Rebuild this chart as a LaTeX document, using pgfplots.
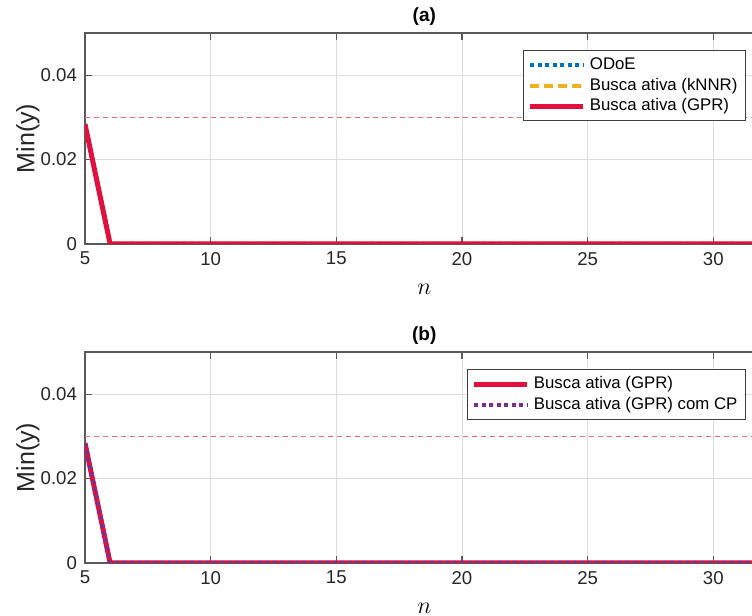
\documentclass[border=0pt]{standalone}
\usepackage{pgfplots}
\pgfplotsset{compat=1.18}
\usepackage{fontspec}
\setmainfont{Liberation Sans}

\definecolor{gprred}{RGB}{226,16,62}
\definecolor{odoeblue}{RGB}{0,114,189}
\definecolor{knnrorange}{RGB}{237,177,32}
\definecolor{cppurple}{RGB}{126,47,142}
\definecolor{refline}{RGB}{225,112,112}

\pgfplotsset{
  minpanel/.style={
    scale only axis,
    width=339.3pt, height=105.5pt,
    xmin=5, xmax=32, ymin=0, ymax=0.05,
    xtick={5,10,...,30}, ytick={0,0.02,0.04},
    scaled y ticks=false,
    yticklabel style={/pgf/number format/fixed, /pgf/number format/precision=2},
    /pgf/number format/assume math mode=true,
    grid=major,
    major grid style={black!13, line width=0.4pt},
    axis line style={black!65, line width=0.55pt},
    tick style={black!65, line width=0.55pt},
    tick align=inside, major tick length=3.5pt,
    ticklabel style={font=\fontsize{9.3}{10}\selectfont, text=black!85},
    xticklabel style={yshift=-0.5pt},
    yticklabel style={xshift=-0.5pt},
    xlabel={$n$},
    xlabel style={at={(axis description cs:0.5,-0.215)}, anchor=center, font=\fontsize{12}{12}\selectfont},
    ylabel={Min(y)},
    ylabel style={at={(axis description cs:-0.084,0.5)}, anchor=center, rotate=0, font=\fontsize{12.5}{13}\selectfont, text=black!85},
    every axis title/.style={at={(0.5,1.08)}, anchor=center, font=\bfseries\fontsize{9.5}{10}\selectfont},
    legend cell align=left,
    legend style={at={(rel axis cs:0.974,0.919)}, anchor=north east,
      font=\fontsize{8.4}{10}\selectfont, draw=black!75, line width=0.5pt,
      inner xsep=2pt, inner ysep=1.5pt, row sep=-1.2pt},
    legend image code/.code={\draw[#1] (0pt,0pt) -- (26.5pt,0pt);},
  },
  refstyle/.style={color=refline, line width=0.5pt, dash pattern=on 2.5pt off 2pt, forget plot},
}

\begin{document}
\begin{tikzpicture}
% (a) ODoE versus active search with kNNR and GPR
\begin{axis}[minpanel, at={(42.5pt,186pt)}, anchor=south west, title={(a)}]
  \addplot[refstyle] coordinates {(5,0.03) (32,0.03)};
  \addplot[odoeblue, line width=2pt, dash pattern=on 2pt off 1.75pt] coordinates {
    (5,0.0284) (6,0) (7,0) (8,0) (9,0) (10,0) (11,0) (12,0) (13,0) (14,0) (15,0)
    (16,0) (17,0) (18,0) (19,0) (20,0) (21,0) (22,0) (23,0) (24,0) (25,0) (26,0)
    (27,0) (28,0) (29,0) (30,0) (31,0) (32,0)};
  \addlegendentry{ODoE}
  \addplot[knnrorange, line width=2pt, dash pattern=on 4.5pt off 2.5pt] coordinates {
    (5,0.0284) (6,0) (7,0) (8,0) (9,0) (10,0) (11,0) (12,0) (13,0) (14,0) (15,0)
    (16,0) (17,0) (18,0) (19,0) (20,0) (21,0) (22,0) (23,0) (24,0) (25,0) (26,0)
    (27,0) (28,0) (29,0) (30,0) (31,0) (32,0)};
  \addlegendentry{Busca ativa (kNNR)}
  \addplot[gprred, line width=2.5pt] coordinates {
    (5,0.0284) (6,0) (7,0) (8,0) (9,0) (10,0) (11,0) (12,0) (13,0) (14,0) (15,0)
    (16,0) (17,0) (18,0) (19,0) (20,0) (21,0) (22,0) (23,0) (24,0) (25,0) (26,0)
    (27,0) (28,0) (29,0) (30,0) (31,0) (32,0)};
  \addlegendentry{Busca ativa (GPR)}
\end{axis}
% (b) GPR active search with and without CP
\begin{axis}[minpanel, at={(42.5pt,26.5pt)}, anchor=south west, title={(b)}]
  \addplot[refstyle] coordinates {(5,0.03) (32,0.03)};
  \addplot[gprred, line width=2.5pt] coordinates {
    (5,0.0284) (6,0) (7,0) (8,0) (9,0) (10,0) (11,0) (12,0) (13,0) (14,0) (15,0)
    (16,0) (17,0) (18,0) (19,0) (20,0) (21,0) (22,0) (23,0) (24,0) (25,0) (26,0)
    (27,0) (28,0) (29,0) (30,0) (31,0) (32,0)};
  \addlegendentry{Busca ativa (GPR)}
  \addplot[cppurple, line width=2pt, dash pattern=on 2pt off 1.75pt] coordinates {
    (5,0.0284) (6,0) (7,0) (8,0) (9,0) (10,0) (11,0) (12,0) (13,0) (14,0) (15,0)
    (16,0) (17,0) (18,0) (19,0) (20,0) (21,0) (22,0) (23,0) (24,0) (25,0) (26,0)
    (27,0) (28,0) (29,0) (30,0) (31,0) (32,0)};
  \addlegendentry{Busca ativa (GPR) com CP}
\end{axis}
\pgfresetboundingbox
\useasboundingbox (0pt,0pt) rectangle (376pt,308pt);
\end{tikzpicture}
\end{document}
